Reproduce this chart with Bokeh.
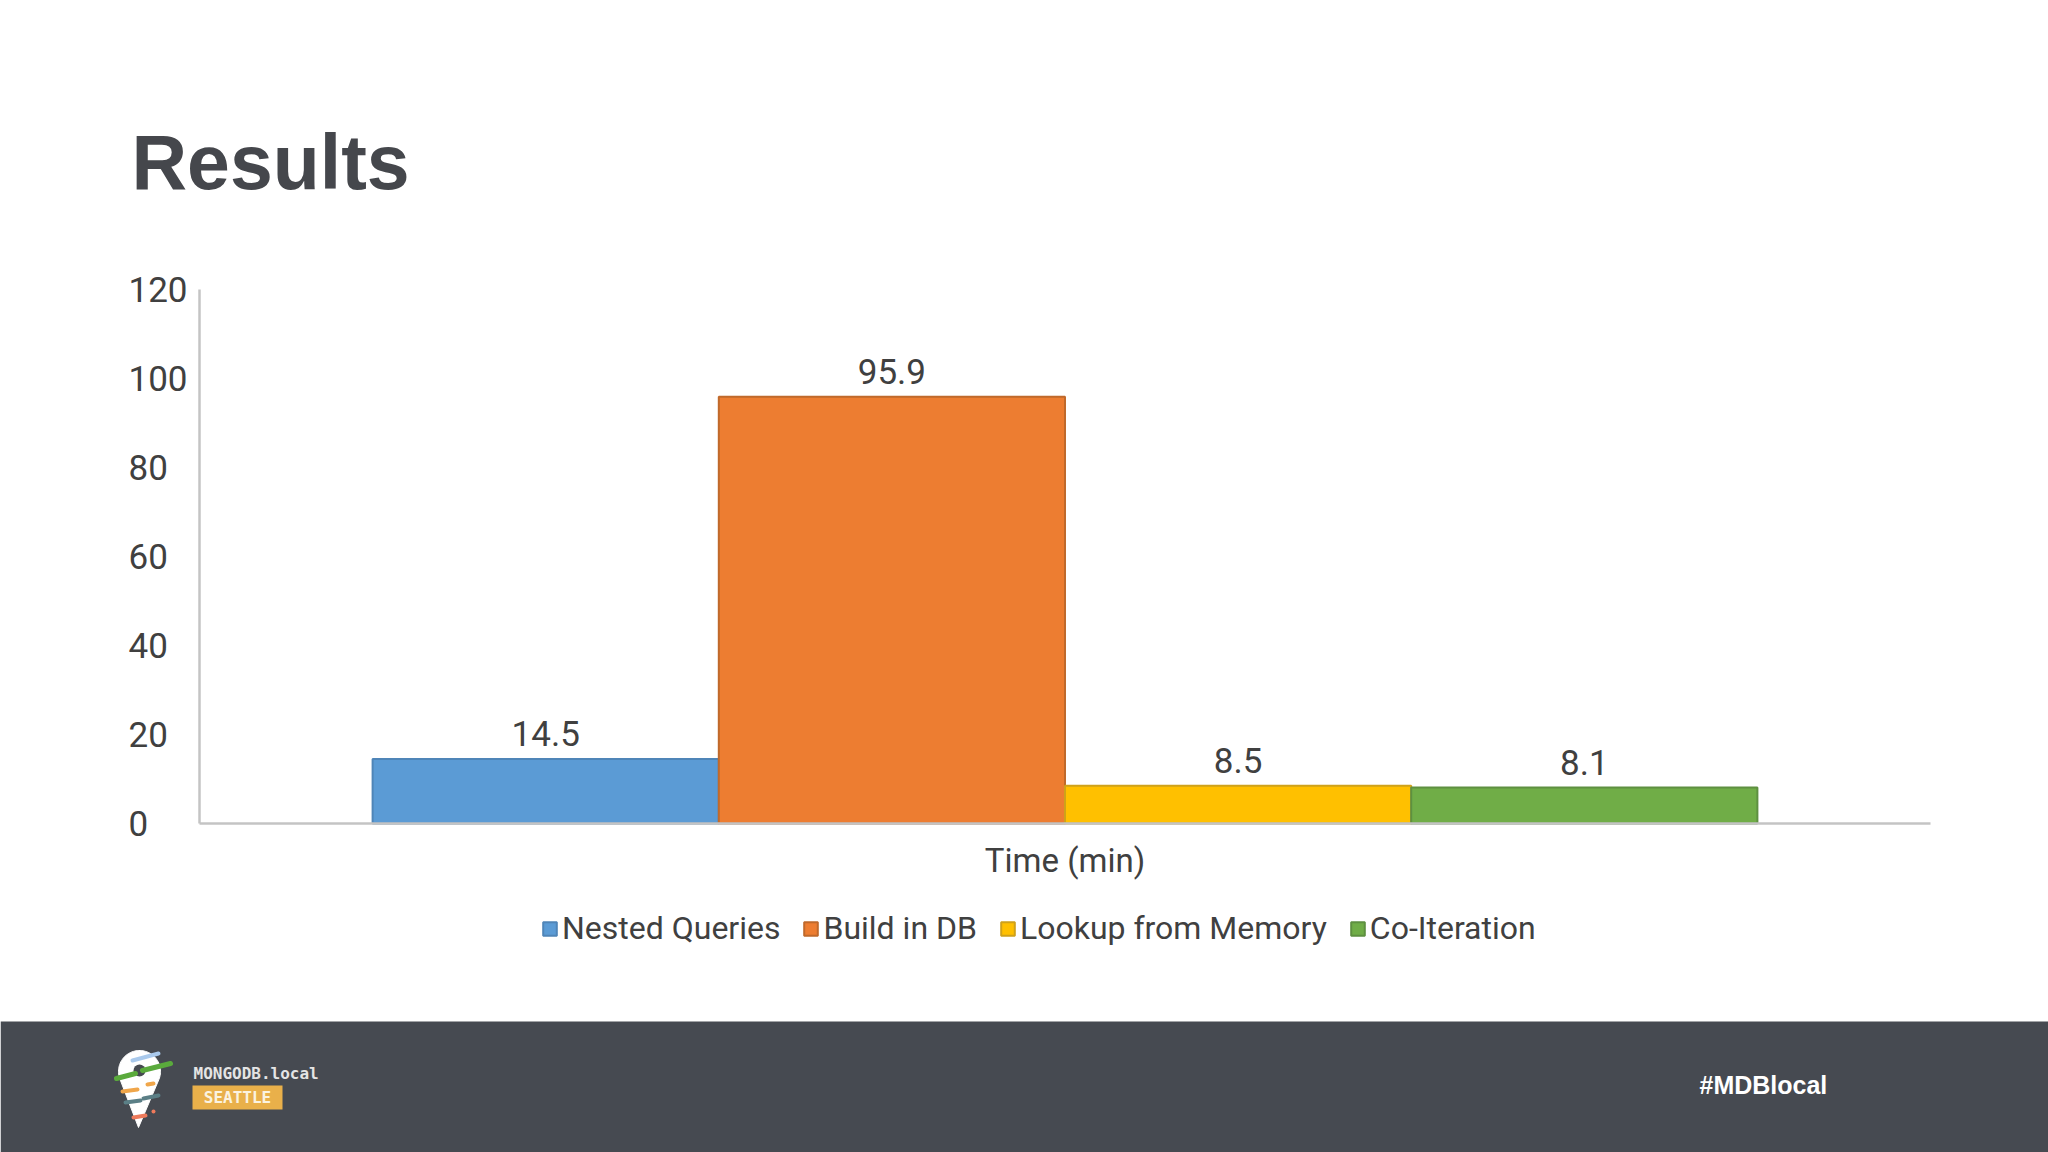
import numpy as np
from bokeh.plotting import figure
from bokeh.models import (Range1d, Legend, LegendItem, ColumnDataSource,
                          FixedTicker, LinearAxis)
from bokeh.core.properties import value
from bokeh.embed import file_html
from bokeh.resources import INLINE

# ---------------- data ----------------
categories = ["Time (min)"]
series = ["Nested Queries", "Build in DB", "Lookup from Memory", "Co-Iteration"]
values = [14.5, 95.9, 8.5, 8.1]
value_labels = ["14.5", "95.9", "8.5", "8.1"]
y_ticks = [0, 20, 40, 60, 80, 100, 120]
title_text = "Results"
hashtag = "#MDBlocal"
brand_text = "MONGODB.local"
city_text = "SEATTLE"

# ---------------- styles / layout ----------------
fills = ["#5b9bd5", "#ed7d31", "#ffc000", "#70ad47"]
edges = ["#4f85b8", "#c0692b", "#cfa11a", "#5e9040"]
W, H = 2048, 1152
FONT = "Roboto"
TXT = "#404040"
FOOT = "#464a51"
AXC = "#c4c4c4"

# pixel placement of the plotting area inside the canvas
F_LEFT, F_RIGHT, F_TOP, F_BOTTOM = 199, 1930, 289, 823
LABEL_LEFT = 122          # anchor of the (left-aligned) y tick labels
n = len(series)
group_frac = 0.8
slot_units = n / group_frac            # width of the category slot in bar units
x_lo = (n - 1) / 2 - slot_units / 2    # data x at left end of the axis
x_hi = (n - 1) / 2 + slot_units / 2
ppu_x = (F_RIGHT - F_LEFT) / slot_units
y_max = y_ticks[-1]
ppu_y = (F_BOTTOM - F_TOP) / y_max

x_range = Range1d(x_lo - F_LEFT / ppu_x, x_hi + (W - F_RIGHT) / ppu_x)
y_range = Range1d(0 - (H - F_BOTTOM) / ppu_y, y_max + F_TOP / ppu_y)

p = figure(width=W, height=H, x_range=x_range, y_range=y_range,
           x_axis_location=None, y_axis_location=None, min_border=0,
           output_backend="svg", toolbar_location=None)
p.grid.visible = False
p.outline_line_color = None
p.background_fill_color = "white"
p.border_fill_color = "white"
p.extra_x_ranges = {"px": Range1d(0, W)}
p.extra_y_ranges = {"px": Range1d(H, 0)}
PX = dict(x_range_name="px", y_range_name="px")

# ---------------- axes ----------------
xpos = list(range(n))
# y axis line (no labels)
yaxis_line = LinearAxis(fixed_location=x_lo, bounds=(0, y_max), ticker=FixedTicker(ticks=[]))
# y tick labels, left aligned (axis placed on the right side of its location)
yaxis_lab = LinearAxis(fixed_location=x_lo - (F_LEFT - LABEL_LEFT) / ppu_x, bounds=(0, y_max),
                       ticker=FixedTicker(ticks=y_ticks))
xaxis = LinearAxis(fixed_location=0, bounds=(x_lo, x_hi),
                   ticker=FixedTicker(ticks=[(n - 1) / 2]),
                   major_label_overrides={(n - 1) / 2: categories[0]})
for ax in (xaxis, yaxis_line, yaxis_lab):
    ax.axis_line_color = AXC
    ax.axis_line_width = 2.5
    ax.major_tick_line_color = None
    ax.minor_tick_line_color = None
    ax.major_label_text_font = FONT
    ax.major_label_text_font_size = "35px"
    ax.major_label_text_color = TXT
yaxis_lab.axis_line_color = None
yaxis_lab.major_label_standoff = 0
xaxis.major_label_standoff = 11
xaxis.major_label_text_font_size = "33px"

# ---------------- bars ----------------
renderers = []
for i, (s, v, lab, fc, ec) in enumerate(zip(series, values, value_labels, fills, edges)):
    src = ColumnDataSource(dict(x=[xpos[i]], val=[v], lab=[lab]))
    r = p.vbar(x="x", top="val", bottom=0, width=1, source=src,
               fill_color=fc, line_color=ec, line_width=2)
    renderers.append(r)
    p.text(x="x", y="val", text="lab", source=src, text_align="center",
           text_baseline="middle", y_offset=-25, text_font=value(FONT),
           text_font_size="35px", text_color=TXT)

p.add_layout(yaxis_line, "left")
p.add_layout(yaxis_lab, "right")
p.add_layout(xaxis, "below")

legend = Legend(items=[LegendItem(label=s, renderers=[r]) for s, r in zip(series, renderers)],
                orientation="horizontal", location=(541, 205),
                glyph_width=17, glyph_height=17, label_standoff=4, spacing=22,
                padding=0, margin=0, border_line_color=None, background_fill_alpha=0,
                label_text_font=FONT, label_text_font_size="32px", label_text_color=TXT)
p.add_layout(legend, "center")

# ---------------- slide title ----------------
p.text(x=[131], y=[161], text=[title_text], text_font=value("Liberation Sans"),
       text_font_style="bold", text_font_size="77px", text_color="#45474c",
       text_baseline="middle", text_align="left", **PX)

# ---------------- footer band ----------------
FY = 1021
p.quad(left=[0], right=[W], top=[FY], bottom=[H], fill_color=FOOT, line_color=None, **PX)

cx, cy, rr = 139, 1071, 21
tipx, tipy = 138, 1127
phi = np.arccos(rr / np.hypot(tipx - cx, tipy - cy))
ang = np.linspace(phi, 2 * np.pi - phi, 60)
px_ = list(cx + rr * np.sin(ang)) + [tipx]
py_ = list(cy + rr * np.cos(ang)) + [tipy]
p.patch(px_, py_, fill_color="white", line_color="white", **PX)
p.circle(x=[cx], y=[cy - 1], radius=6, fill_color=FOOT, line_color=None, **PX)
dashes = [
    ((132, 158), (1060, 1053), "#a9c9ec", 4),
    ((116, 135), (1078, 1073), "#5aaa3c", 5),
    ((142, 170), (1070, 1063), "#5aaa3c", 5),
    ((122, 137), (1091, 1089), "#f0a64a", 4),
    ((147, 153), (1084, 1083), "#f0a64a", 4),
    ((125, 140), (1102, 1100), "#5b7f86", 4),
    ((143, 158), (1098, 1095), "#5b7f86", 4),
    ((133, 145), (1117, 1115), "#ee7a5b", 4),
]
for xs_, ys_, c, w in dashes:
    p.line(list(xs_), list(ys_), line_color=c, line_width=w, line_cap="round", **PX)
p.circle(x=[153], y=[1111], radius=2, fill_color="#ee7a5b", line_color=None, **PX)

p.text(x=[193], y=[1072.5], text=[brand_text], text_font=value("DejaVu Sans Mono"),
       text_font_style="bold", text_font_size="16px", text_color="#e4e4e4",
       text_baseline="middle", **PX)
p.quad(left=[192], right=[282], top=[1085], bottom=[1109], fill_color="#e9b04a",
       line_color=None, **PX)
p.text(x=[237], y=[1097], text=[city_text], text_font=value("DejaVu Sans Mono"),
       text_font_style="bold", text_font_size="16px", text_color="#fbf3e0",
       text_baseline="middle", text_align="center", **PX)
p.text(x=[1699], y=[1084], text=[hashtag], text_font=value("Liberation Sans"),
       text_font_style="bold", text_font_size="25px", text_color="white",
       text_baseline="middle", **PX)

open("out.html", "w").write(file_html(p, INLINE))
